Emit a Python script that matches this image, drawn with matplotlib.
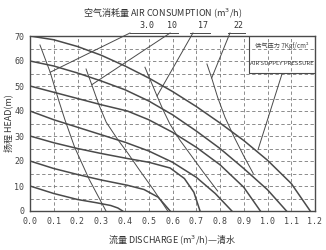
import matplotlib
matplotlib.use("Agg")
import matplotlib.pyplot as plt

# ---- data ----
# head-flow curves for each air supply pressure
hq_70_q = [0.0, 0.1, 0.2, 0.3, 0.4, 0.5, 0.6, 0.7, 0.8, 0.9, 1.0, 1.1, 1.18]
hq_70_h = [70, 68.5, 65.8, 62.3, 58, 53.2, 47.8, 41.8, 35.2, 28.2, 20.3, 11, 0]
hq_60_q = [0.0, 0.1, 0.2, 0.3, 0.4, 0.5, 0.6, 0.7, 0.8, 0.9, 1.0, 1.08]
hq_60_h = [60, 58, 55.2, 52, 48.5, 44, 38.5, 32, 25, 17, 8.5, 0]
hq_50_q = [0.0, 0.1, 0.2, 0.3, 0.41, 0.5, 0.6, 0.7, 0.8, 0.9, 0.97]
hq_50_h = [50, 47.5, 45, 42.5, 40, 36.5, 31.5, 25.5, 18.5, 9.5, 0]
hq_40_q = [0.0, 0.1, 0.2, 0.3, 0.4, 0.5, 0.6, 0.7, 0.78, 0.85]
hq_40_h = [40, 36.5, 33.5, 30.5, 27.5, 24, 19.5, 13.5, 7, 0]
hq_30_q = [0.0, 0.1, 0.2, 0.3, 0.41, 0.5, 0.59, 0.65, 0.69, 0.716]
hq_30_h = [30, 27.3, 25, 23, 21, 19.5, 17.2, 13, 7.5, 0]
hq_20_q = [0.0, 0.1, 0.2, 0.3, 0.41, 0.48, 0.54, 0.59]
hq_20_h = [20, 17, 14.6, 12.4, 10.3, 8.6, 5.5, 0]
hq_10_q = [0.0, 0.1, 0.2, 0.28, 0.34, 0.37, 0.39]
hq_10_h = [10, 7, 4.6, 3.3, 2.2, 1.2, 0]

# air consumption curves
air_3_q = [0.042, 0.085, 0.12, 0.147, 0.188, 0.25, 0.32]
air_3_h = [66.4, 55.5, 44.5, 36.5, 25.5, 12.5, 0]
air_10_q = [0.236, 0.26, 0.29, 0.321, 0.37, 0.413, 0.46, 0.52, 0.58]
air_10_h = [56.8, 50.5, 42.5, 35.5, 28.5, 23, 16.5, 8.5, 0]
air_17_q = [0.484, 0.535, 0.56, 0.589, 0.63, 0.68, 0.73, 0.79]
air_17_h = [57.5, 46, 40.5, 34.8, 28.5, 22, 15.5, 8]
air_22_q = [0.745, 0.765, 0.79, 0.821, 0.86, 0.9, 0.94]
air_22_h = [58.8, 53.2, 45.5, 37.5, 29.5, 22, 15]

air_labels = ["3.0", "10", "17", "22"]
air_label_q = [0.493, 0.598, 0.728, 0.876]
air_leader_start_q = [0.421, 0.59, 0.686, 0.842]
air_leader_end = [(0.085, 55.5), (0.26, 50.5), (0.535, 46), (0.765, 53.2)]

x_ticks = [0.0, 0.1, 0.2, 0.3, 0.4, 0.5, 0.6, 0.7, 0.8, 0.9, 1.0, 1.1, 1.2]
y_ticks = [0, 10, 20, 30, 40, 50, 60, 70]

# ---- drawing ----
fig = plt.figure(figsize=(3.26, 2.5), dpi=100)
ax = fig.add_axes([30/326, 1-211/250, 285/326, 175/250])
ax.set_xlim(0, 1.2)
ax.set_ylim(0, 70)

cjk = ['Noto Sans CJK SC', 'DejaVu Sans']
line_c = '#4a4a4a'
grid_c = '#7a7a7a'

for q in x_ticks[1:-1]:
    ax.axvline(q, color=grid_c, lw=0.6, ls=(0, (4, 3)), zorder=1)
for h in range(5, 70, 5):
    ax.axhline(h, color=grid_c, lw=0.6, ls=(0, (4, 3)), zorder=1)

for qs, hs in [(hq_70_q, hq_70_h), (hq_60_q, hq_60_h), (hq_50_q, hq_50_h),
               (hq_40_q, hq_40_h), (hq_30_q, hq_30_h), (hq_20_q, hq_20_h),
               (hq_10_q, hq_10_h)]:
    ax.plot(qs, hs, color=line_c, lw=1.1, zorder=3, solid_joinstyle='round')

for qs, hs in [(air_3_q, air_3_h), (air_10_q, air_10_h),
               (air_17_q, air_17_h), (air_22_q, air_22_h)]:
    ax.plot(qs, hs, color=line_c, lw=0.7, zorder=3, solid_joinstyle='round')

# labels above the plot with underline and leader
for lab, lq in zip(air_labels, air_label_q):
    ax.text(lq, 72.2, lab, ha='center', va='bottom', fontsize=6,
            family='DejaVu Sans Mono', color='#333333', clip_on=False)
ax.plot([0.421, 0.623], [71.2, 71.2], color=line_c, lw=0.7, clip_on=False)
ax.plot([0.674, 0.758], [71.2, 71.2], color=line_c, lw=0.7, clip_on=False)
ax.plot([0.834, 0.905], [71.2, 71.2], color=line_c, lw=0.7, clip_on=False)
for sq, (eq, eh) in zip(air_leader_start_q, air_leader_end):
    ax.plot([sq, eq], [71.2, eh], color=line_c, lw=0.7, clip_on=False, zorder=3)

# pressure box
ax.plot([0.922, 0.922, 1.2], [70, 55.2, 55.2], color=line_c, lw=0.8, zorder=4)
ax.text(1.061, 66.2, "供气压力 7Kgf/cm²", ha='center', va='center', fontsize=4.5,
        family=cjk, color='#444444')
ax.text(1.061, 58.9, "AIR SUPPLY PRESSURE", ha='center', va='center', fontsize=4.3,
        family=cjk, color='#333333')
ax.plot([1.061, 0.96], [54.8, 24.5], color=line_c, lw=0.7, zorder=3)

ax.set_xticks(x_ticks)
ax.set_xticklabels([f"{v:.1f}" for v in x_ticks], family='DejaVu Sans Mono', fontsize=6)
ax.set_yticks(y_ticks)
ax.set_yticklabels([str(v) for v in y_ticks], family='DejaVu Sans Mono', fontsize=6)
ax.tick_params(length=0, pad=4, colors='#444444')
for s in ax.spines.values():
    s.set_color(line_c)
    s.set_linewidth(1.0)

fig.text(163/326, 1-13/250, "空气消耗量 AIR CONSUMPTION (m$^3$/h)", ha='center', va='center',
         fontsize=6.5, family=cjk, color='#333333')
fig.text(172/326, 1-240/250, "流量 DISCHARGE (m$^3$/h)—清水", ha='center', va='center',
         fontsize=6.5, family=cjk, color='#333333')
fig.text(8/326, 1-123/250, "扬程 HEAD(m)", ha='center', va='center', rotation=90,
         fontsize=6.5, family=cjk, color='#333333')

fig.savefig("out.png", dpi=100, facecolor='white')
